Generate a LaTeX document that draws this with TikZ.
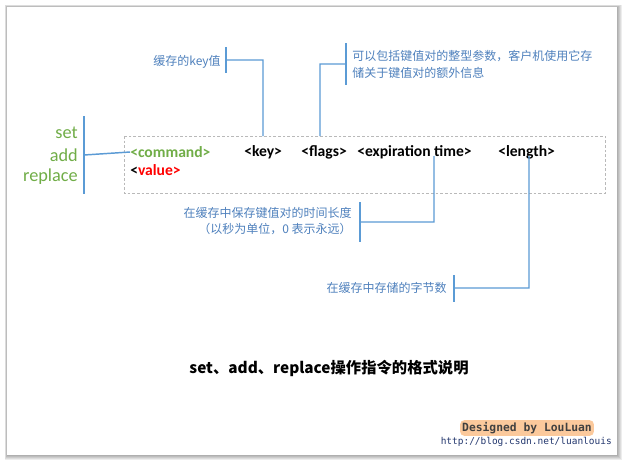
\documentclass[tikz,border=0pt]{standalone}
\usepackage{fontspec}
\setmainfont{Carlito}
\newfontfamily\cjk{Noto Sans CJK SC}
\newfontfamily\mono{DejaVu Sans Mono}
\usepackage{xcolor}
\usetikzlibrary{
    calc,
    positioning
}
\definecolor{opgreen}{HTML}{70AD47}
\definecolor{noteblue}{HTML}{4F81BD}
\definecolor{lineblue}{HTML}{5B9BD5}
\definecolor{urlblue}{HTML}{23376E}
\definecolor{glow}{HTML}{FBC99C}

\begin{document}
\begin{tikzpicture}[x=0.75pt, y=-0.75pt,
    op/.style={text=opgreen, font=\fontsize{13.7}{16}\selectfont, anchor=east, inner sep=0pt},
    field/.style={font=\bfseries\fontsize{11.7}{14}\selectfont, anchor=west, inner sep=0pt},
    note/.style={text=noteblue, font=\cjk\fontsize{9}{12}\selectfont, inner sep=0pt},
    callout/.style={lineblue, line width=1.1pt}]
                        \useasboundingbox[fill=white] (0, 0) rectangle (627, 465);
                        % card and its shadow
                        \foreach \s in {1,...,5}
                            \fill[black, opacity=0.07] (7-\s*0.5, 7-\s*0.5) rectangle (617+\s*0.9, 455+\s*0.9);
                        \fill[white] (7, 7) rectangle (617, 455);

                        % the command line
                        \draw[gray!55, dash pattern=on 2pt off 1.5pt] (124, 136) rectangle (605, 193);
                        \node[field, text=opgreen] (cmd) at (130, 152) {<command>};
                        \node[field] (key) at (244, 152) {<key>};
                        \node[field] (flags) at (301, 152) {<flags>};
                        \node[field] (exp) at (357, 152) {<expiration time>};
                        \node[field] (len) at (498, 152) {<length>};
                        \node[field] (val) at (130, 170) {<\textcolor{red}{value>}};

                        \node[op] (opset) at (78, 133) {set};
                        \node[op] (opadd) at (78, 155) {add};
                        \node[op] (oprep) at (78, 177) {replace};

                        % callouts
                        \node[note, anchor=east] (keynote) at (221, 62) {缓存的key值};
                        \node[note, anchor=west, align=left, font=\cjk\fontsize{9}{12.75}\selectfont] (flagsnote) at (352, 64)
                            {可以包括键值对的整型参数，客户机使用它存\\储关于键值对的额外信息};
                        \node[note, anchor=east, align=right] (expnote) at (352, 221)
                            {在缓存中保存键值对的时间长度\\（以秒为单位，0 表示永远）};
                        \node[note, anchor=east] (lennote) at (447, 288) {在缓存中存储的字节数};

                        \coordinate (opbar) at (84, 155);
                        \coordinate (keybar) at (226, 60);
                        \coordinate (flagsbar) at (346, 64);
                        \coordinate (expbar) at (360, 222);
                        \coordinate (lenbar) at (454, 288);
                        \coordinate (keyfoot) at (263, 136);
                        \coordinate (flagsfoot) at (320, 136);
                        \coordinate (expfoot) at (434, 156);
                        \coordinate (lenfoot) at (529, 156);

                        \draw[callout]
                        ($(opbar)+(0, -39)$) -- ($(opbar)+(0, 39)$)
                        ($(keybar)+(0, -13)$) -- ($(keybar)+(0, 13)$)
                        ($(flagsbar)+(0, -21)$) -- ($(flagsbar)+(0, 21)$)
                        ($(expbar)+(0, -20)$) -- ($(expbar)+(0, 20)$)
                        ($(lenbar)+(0, -13)$) -- ($(lenbar)+(0, 14)$);

                        \draw[callout]
                        (opbar) -- (cmd.west)
                        (keyfoot) |- (keybar)
                        (flagsfoot) |- (flagsbar)
                        (expfoot) |- (expbar)
                        (lenfoot) |- (lenbar);

                        % caption and signature
                        \node[font=\cjk\bfseries\fontsize{11.5}{14}\selectfont] (title) at (329, 368) {set、add、replace操作指令的格式说明};
                        \node[font=\mono\bfseries\fontsize{8.5}{10}\selectfont, text=black!75, fill=glow, rounded corners=3pt, inner sep=1.5pt] (design) at (527, 428) {Designed by LouLuan};
                        \node[font=\mono\fontsize{7.1}{9}\selectfont, text=urlblue, anchor=east, inner sep=0pt] (url) at (612, 442) {http://blog.csdn.net/luanlouis};
                    \end{tikzpicture}
\end{document}
